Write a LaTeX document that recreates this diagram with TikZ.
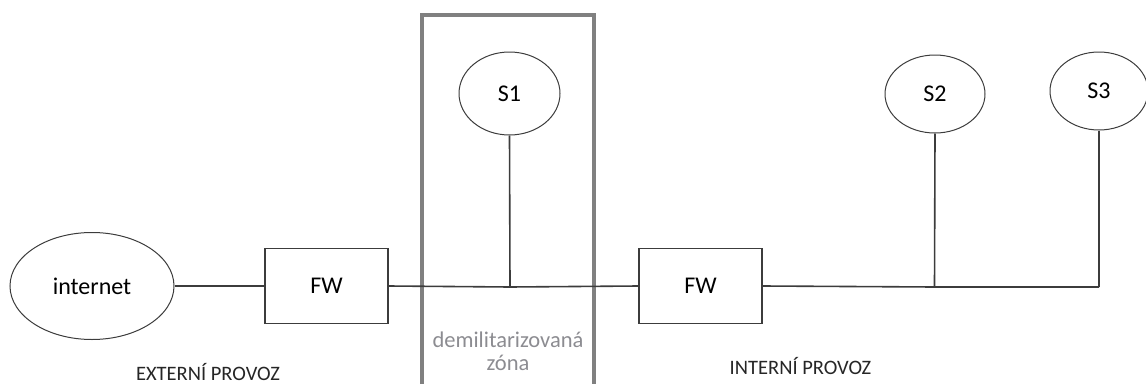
\documentclass[tikz,border=0pt]{standalone}
\usepackage{fontspec}
\setmainfont{Carlito}
\usetikzlibrary{shapes.geometric}
\definecolor{lin}{RGB}{60,60,60}
\definecolor{dmz}{RGB}{128,128,128}
\definecolor{dmztext}{RGB}{140,140,145}
\tikzset{
  x=1pt,y=-1pt,
  conn/.style={draw=lin,line width=1.6pt},
  srv/.style={ellipse,draw=lin,line width=1pt,inner sep=0pt,font=\fontsize{24}{26}\selectfont},
  fwbox/.style={rectangle,draw=lin,line width=1.5pt,minimum width=123pt,minimum height=75pt,inner sep=0pt,font=\fontsize{24}{26}\selectfont},
  zonelabel/.style={font=\fontsize{20.5}{22}\selectfont,text=black!85,inner sep=0pt,anchor=base},
}
\begin{document}
\begin{tikzpicture}
\useasboundingbox (0,0) rectangle (1146,383);
\clip (0,0) rectangle (1146,383);
% DMZ frame
\draw[dmz,line width=4pt] (421.5,400) -- (421.5,15) -- (594,15) -- (594,400);
\node[srv,minimum width=164pt,minimum height=107pt] (inet) at (92,286) {internet};
\node[fwbox] (fw1) at (326.5,286) {FW};
\node[fwbox] (fw2) at (700.5,286) {FW};
\node[srv,minimum width=101pt,minimum height=83pt] (s1) at (509.5,93.5) {S1};
\node[srv,minimum width=100pt,minimum height=78pt] (s2) at (935,94) {S2};
\node[srv,minimum width=98pt,minimum height=78pt] (s3) at (1099,91) {S3};
\coordinate (j1) at (510,287);
\coordinate (j2) at (934.5,287);
\coordinate (j3) at (1099,287);
\draw[conn] (inet.east) -- (fw1.west);
\draw[conn] (fw1.east) -- (j1) -- (fw2.west);
\draw[conn] (s1.south) -- (j1);
\draw[conn] (fw2.east) -- (j2) -- (j3);
\draw[conn] (s2.south) -- (j2);
\draw[conn] (s3.south) -- (j3);
\node[zonelabel] (ext) at (208,380) {EXTERNÍ PROVOZ};
\node[zonelabel] (int) at (800.5,374.5) {INTERNÍ PROVOZ};
\node[font=\fontsize{22.5}{23}\selectfont,text=dmztext,align=center] (dmzl) at (508,351) {demilitarizovaná\\zóna};
\end{tikzpicture}
\end{document}
